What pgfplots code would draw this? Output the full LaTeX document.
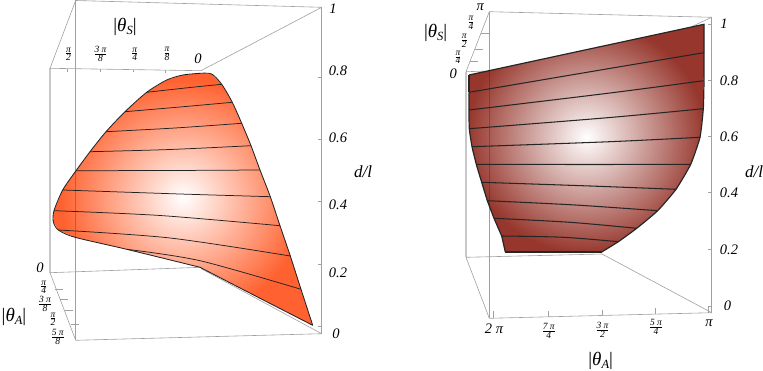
\documentclass[border=0pt]{standalone}
\usepackage{fontspec}
\setmainfont{Liberation Serif}
\usepackage{pgfplots}
\pgfplotsset{compat=1.18}

\definecolor{edgeA}{RGB}{255,98,48}
\definecolor{edgeB}{RGB}{150,54,44}
\definecolor{framec}{RGB}{160,160,160}
\definecolor{backc}{RGB}{200,200,200}
\definecolor{inkc}{RGB}{35,35,35}

% light spot, colours run out to the edge of the surface
\pgfdeclareradialshading{spotA}{\pgfpoint{0bp}{0.4bp}}{color(0bp)=(white); color(23.5bp)=(edgeA); color(50bp)=(edgeA)}
\pgfdeclareradialshading{spotB}{\pgfpoint{0bp}{0.2bp}}{color(0bp)=(white); color(25.5bp)=(edgeB); color(50bp)=(edgeB)}

\newcommand\fr[2]{\fontsize{9.5}{9.5}\selectfont$\frac{\hbox{\itshape #1}}{\hbox{\itshape #2}}$}
\newcommand\num[1]{\fontsize{14.5}{14.5}\selectfont\itshape #1}
\newcommand\ang[1]{\fontsize{19}{19}\selectfont |{\itshape θ}\raisebox{-3pt}{\fontsize{12.5}{12.5}\selectfont\itshape #1}|}
\newcommand\dl{\fontsize{17}{17}\selectfont\itshape d/l}

\begin{document}
\begin{tikzpicture}
\begin{axis}[
    width=763pt, height=371pt, scale only axis,
    xmin=0, xmax=763, ymin=0, ymax=371, y dir=reverse,
    axis lines=none, no markers, clip=false,
    frame/.style={draw=framec, line width=0.6pt},
    back/.style={draw=backc, line width=1.1pt},
    over/.style={draw=black, opacity=0.22, line width=0.6pt},
    edgeA/.style={draw=inkc, line width=0.85pt, smooth, tension=0.45},
    edgeB/.style={draw=black!85, line width=1.2pt, smooth, tension=0.3},
    cutA/.style={draw=inkc, line width=0.75pt, smooth},
    cutB/.style={draw=black!85, line width=1.05pt, smooth},
]
% ---- left panel: box
\addplot[back] coordinates {(50,68.3)(50,272.7)};
\addplot[frame] coordinates {(75.7,0.5)(75.7,340.3)};
\addplot[frame] coordinates {(321.7,7.3)(321.7,333.7)};
\addplot[frame] coordinates {(75.7,0.5)(321.7,7.3)};
\addplot[frame] coordinates {(75.7,0.5)(50,68.3)};
\addplot[frame] coordinates {(50,68.3)(201,70.7)};
\addplot[frame] coordinates {(201,70.7)(321.7,7.3)};
\addplot[frame] coordinates {(50,272.7)(201,267.3)};
\addplot[frame] coordinates {(50,272.7)(75.7,340.3)};
\addplot[frame] coordinates {(75.7,340.3)(321.7,333.7)};
\addplot[frame] coordinates {(201,268.6)(321.7,333.7)};
% ticks
\addplot[frame] coordinates {(67.3,69.5)(67.3,72)};
\addplot[frame] coordinates {(100.7,69.2)(100.7,72)};
\addplot[frame] coordinates {(133.3,69.8)(133.3,72.5)};
\addplot[frame] coordinates {(165.7,70.2)(165.7,73)};
\addplot[frame] coordinates {(318,77)(321.7,77)};
\addplot[frame] coordinates {(318,139.3)(321.7,139.3)};
\addplot[frame] coordinates {(318,201.7)(321.7,201.7)};
\addplot[frame] coordinates {(318,264)(321.7,264)};
\addplot[frame] coordinates {(318,326.7)(321.7,326.7)};
\addplot[frame] coordinates {(55,289.3)(63,289.3)};
\addplot[frame] coordinates {(60,299.3)(68,299.3)};
\addplot[frame] coordinates {(65,310.3)(73,310.3)};
\addplot[frame] coordinates {(71,324.3)(79,324.3)};
% surface
\addplot[draw=none, shade, shading=spotA] coordinates {
    (200,73.3)(183,75)(166.7,80)(146.7,92.3)(125,111.7)(106,131.7)(90,151.7)(76,170.7)(62.7,190)
    (54,210.7)(53.3,221.7)(58.3,230)(75,237.3)(126.7,249.3)(200,267.3)(260,298.3)(312.7,325.3)
    (301,289.3)(290.3,256)(280,225.7)(270.3,196.7)(260,170)(251,145.7)(241.7,123.3)
    (232.3,102.3)(221.7,84.3)(211.7,74)} -- cycle;
\addplot[over] coordinates {(75.7,172)(75.7,237)};
% level lines
\addplot[cutA] coordinates {(146.7,92.3)(190,87.5)(221.7,84.3)};
\addplot[cutA] coordinates {(125,111.7)(180,107)(232.3,102.3)};
\addplot[cutA] coordinates {(106,131.7)(175,128)(241.7,123.3)};
\addplot[cutA] coordinates {(90,151.7)(170,149.5)(251,145.7)};
\addplot[cutA] coordinates {(76,170.7)(170,170.5)(260,170)};
\addplot[cutA] coordinates {(62.7,190)(180,194)(270.3,196.7)};
\addplot[cutA] coordinates {(54,210.7)(160,215.5)(280,225.7)};
\addplot[cutA] coordinates {(58.3,230)(170,238)(290.3,256)};
\addplot[cutA] coordinates {(126.7,249.3)(200,260.7)(301,289.3)};
% outline
\addplot[edgeA] coordinates {(200,73.3)(183,75)(166.7,80)(146.7,92.3)(125,111.7)(106,131.7)(90,151.7)(76,170.7)(62.7,190)
    (54,210.7)(53.3,221.7)(58.3,230)(75,237.3)(126.7,249.3)(200,267.3)};
\addplot[draw=inkc, line width=0.85pt] coordinates {(200,267.3)(260,298.3)(312.7,325.3)};
\addplot[edgeA] coordinates {(312.7,325.3)(301,289.3)(290.3,256)(280,225.7)(270.3,196.7)(260,170)(251,145.7)
    (241.7,123.3)(232.3,102.3)(221.7,84.3)(211.7,74)(200,73.3)};
% text
\node at (axis cs:125,27) {\ang{S}};
\node at (axis cs:68.5,54) {\fr{π}{2}};
\node at (axis cs:100.5,54) {\fr{3 π}{8}};
\node at (axis cs:134.7,54) {\fr{π}{4}};
\node at (axis cs:167,54) {\fr{π}{8}};
\node at (axis cs:198,58.5) {\num{0}};
\node at (axis cs:40,268) {\num{0}};
\node at (axis cs:43.7,287) {\fr{π}{4}};
\node at (axis cs:45,304) {\fr{3 π}{8}};
\node at (axis cs:53,319) {\fr{π}{2}};
\node at (axis cs:57.7,337) {\fr{5 π}{8}};
\node at (axis cs:14,317) {\ang{A}};
\node at (axis cs:333,8.5) {\num{1}};
\node at (axis cs:338,70.5) {\num{0.8}};
\node at (axis cs:338,137.5) {\num{0.6}};
\node at (axis cs:338,205) {\num{0.4}};
\node at (axis cs:338,272.5) {\num{0.2}};
\node at (axis cs:336,334) {\num{0}};
\node at (axis cs:363,172) {\dl};
% ---- right panel: box
\addplot[back] coordinates {(466,71.7)(466,257.3)};
\addplot[frame] coordinates {(489.3,11.7)(489.3,318.3)};
\addplot[frame] coordinates {(711.7,17.3)(711.7,312.7)};
\addplot[frame] coordinates {(489.3,11.7)(711.7,17.3)};
\addplot[frame] coordinates {(466,71.7)(489.3,11.7)};
\addplot[frame] coordinates {(466,71.7)(490,71)};
\addplot[frame] coordinates {(693,26)(711.7,17.3)};
\addplot[frame] coordinates {(466,257.3)(602,254)};
\addplot[frame] coordinates {(466,257.3)(489.3,318.3)};
\addplot[frame] coordinates {(489.3,318.3)(711.7,312.7)};
\addplot[frame] coordinates {(602,254)(711.7,312.7)};
% ticks
\addplot[frame] coordinates {(493.3,318)(493.3,311)};
\addplot[frame] coordinates {(548.3,316.7)(548.3,311)};
\addplot[frame] coordinates {(602,315.3)(602,310)};
\addplot[frame] coordinates {(655.7,314)(655.7,308)};
\addplot[frame] coordinates {(708.3,312.8)(708.3,307)};
\addplot[frame] coordinates {(708,24)(711.7,24)};
\addplot[frame] coordinates {(708,80.3)(711.7,80.3)};
\addplot[frame] coordinates {(708,136)(711.7,136)};
\addplot[frame] coordinates {(708,192.7)(711.7,192.7)};
\addplot[frame] coordinates {(708,249.3)(711.7,249.3)};
\addplot[frame] coordinates {(708,306.7)(711.7,306.7)};
\addplot[frame] coordinates {(470,61.7)(478,61.7)};
\addplot[frame] coordinates {(475,49.3)(483,49.3)};
\addplot[frame] coordinates {(481,33.7)(489,33.7)};
% surface
\addplot[draw=none, shade, shading=spotB] coordinates {
    (469,75)(704,24.3)(704,52.7)(703.7,80.7)(703.3,108.7)(700,137.3)(690.7,164.3)(676,189.3)
    (657.7,210.7)(636.7,228.3)(618.3,241.7)(601.7,252)(505.3,252)(501.7,236)(494,218.3)
    (487.3,200.7)(481.7,182.3)(476.3,164.3)(472,146.7)(469.3,128.7)(469,110)(469,92.3)} -- cycle;
\addplot[over] coordinates {(489.3,71)(489.3,205)};
% level lines
\addplot[cutB] coordinates {(469,92.3)(610,68.4)(704,52.7)};
\addplot[cutB] coordinates {(469,110)(610,93)(703.7,80.7)};
\addplot[cutB] coordinates {(469.3,128.7)(610,117.5)(703.3,108.7)};
\addplot[cutB] coordinates {(472,146.7)(610,141.7)(700,137.3)};
\addplot[cutB] coordinates {(476.3,164.3)(590,164.5)(690.7,164.3)};
\addplot[cutB] coordinates {(481.7,182.3)(590,186)(676,189.3)};
\addplot[cutB] coordinates {(487.3,200.7)(575,205)(657.7,210.7)};
\addplot[cutB] coordinates {(494,218.3)(570,222.3)(636.7,228.3)};
\addplot[cutB] coordinates {(501.7,236)(563.3,237.3)(618.3,241.7)};
% outline
\addplot[draw=black!85, line width=1.2pt] coordinates {(505.3,252)(601.7,252)};
\addplot[draw=black!85, line width=1.2pt] coordinates {(469,75)(704,24.3)(704,80.7)};
\addplot[edgeB] coordinates {(704,80.7)(703.3,108.7)(700,137.3)(690.7,164.3)(676,189.3)(657.7,210.7)
    (636.7,228.3)(618.3,241.7)(601.7,252)};
\addplot[draw=black!85, line width=1.2pt] coordinates {(505.3,252)(501.7,236)(494,218.3)(487.3,200.7)};
\addplot[edgeB] coordinates {(487.3,200.7)(481.7,182.3)(476.3,164.3)
    (472,146.7)(469.3,128.7)(469,110)(469,92.3)};
\addplot[draw=black!85, line width=1.2pt] coordinates {(469,92.3)(469,75)};
% text
\node at (axis cs:435.7,33.3) {\ang{S}};
\node at (axis cs:453.3,74) {\num{0}};
\node at (axis cs:458,57.3) {\fr{π}{4}};
\node at (axis cs:464.3,40.7) {\fr{π}{2}};
\node at (axis cs:471,22.7) {\fr{π}{4}};
\node at (axis cs:480.3,7.3) {\num{π}};
\node at (axis cs:494,328.3) {\num{2 π}};
\node at (axis cs:548.7,331) {\fr{7 π}{4}};
\node at (axis cs:602.5,330) {\fr{3 π}{2}};
\node at (axis cs:656,327) {\fr{5 π}{4}};
\node at (axis cs:709,323) {\num{π}};
\node at (axis cs:600.7,360.5) {\ang{A}};
\node at (axis cs:724,24) {\num{1}};
\node at (axis cs:729,80.7) {\num{0.8}};
\node at (axis cs:729,137) {\num{0.6}};
\node at (axis cs:729,193) {\num{0.4}};
\node at (axis cs:729,250) {\num{0.2}};
\node at (axis cs:727.5,306) {\num{0}};
\node at (axis cs:754,172) {\dl};
\end{axis}
\pgfresetboundingbox
\path[use as bounding box] (current axis.south west) rectangle (current axis.north east);
\end{tikzpicture}
\end{document}
